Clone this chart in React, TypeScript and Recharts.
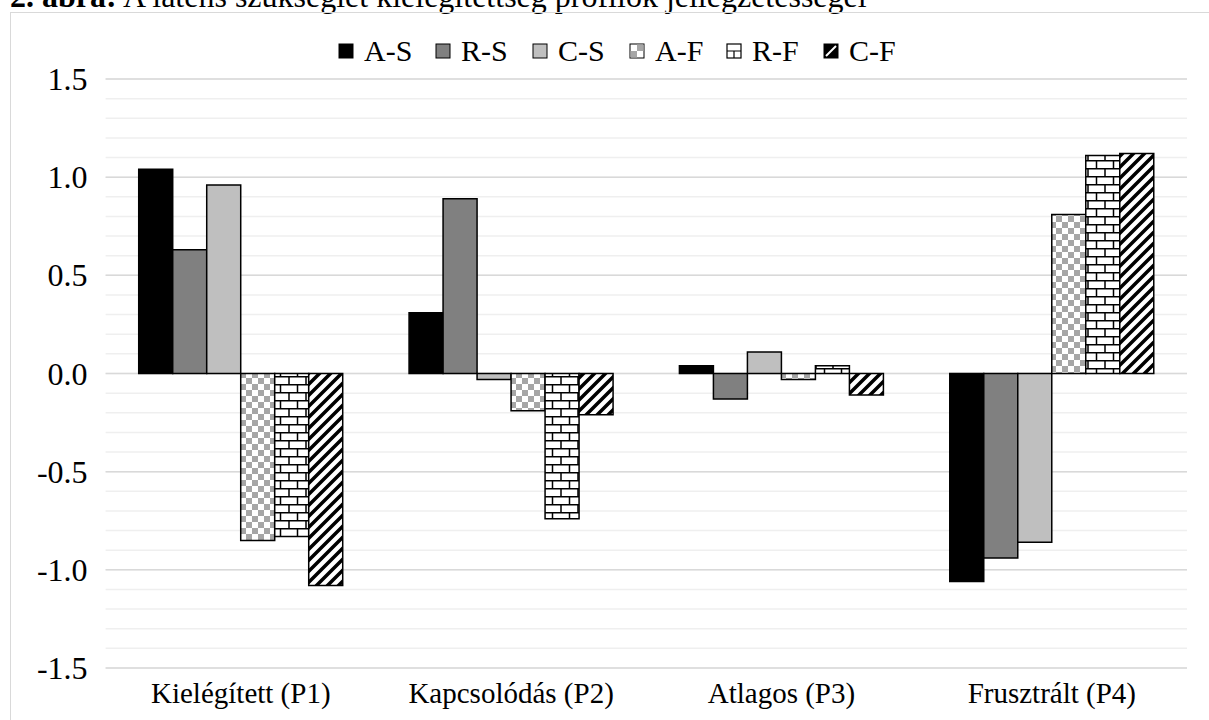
import React from "react";
import { Bar, BarChart, CartesianGrid, Legend, XAxis, YAxis } from "recharts";

const FONT = "'Liberation Serif', 'Times New Roman', serif";

const categories = ["Kielégített (P1)", "Kapcsolódás (P2)", "Atlagos (P3)", "Frusztrált (P4)"];
const seriesNames = ["A-S", "R-S", "C-S", "A-F", "R-F", "C-F"];

const asValues = [1.04, 0.31, 0.04, -1.06];
const rsValues = [0.63, 0.89, -0.13, -0.94];
const csValues = [0.96, -0.03, 0.11, -0.86];
const afValues = [-0.85, -0.19, -0.03, 0.81];
const rfValues = [-0.83, -0.74, 0.04, 1.11];
const cfValues = [-1.08, -0.21, -0.11, 1.12];

const yTicks = [-1.5, -1.0, -0.5, 0, 0.5, 1.0, 1.5];
const minorGrid = [
	-1.5, -1.4, -1.3, -1.2, -1.1, -1.0, -0.9, -0.8, -0.7, -0.6, -0.5, -0.4, -0.3, -0.2, -0.1, 0,
	0.1, 0.2, 0.3, 0.4, 0.5, 0.6, 0.7, 0.8, 0.9, 1.0, 1.1, 1.2, 1.3, 1.4, 1.5,
];

const data = categories.map((name, i) => ({
	name,
	"A-S": asValues[i],
	"R-S": rsValues[i],
	"C-S": csValues[i],
	"A-F": afValues[i],
	"R-F": rfValues[i],
	"C-F": cfValues[i],
}));

const fills = ["#000000", "#808080", "#bfbfbf", "url(#checker)", "url(#brick)", "url(#diag)"];

const YTick = (p: any) => (
	<text x={p.x} y={p.y} dy={11} textAnchor="end" fontSize={32} fontFamily={FONT} fill="#000">
		{Number(p.payload.value).toFixed(1)}
	</text>
);

const XTick = (p: any) => (
	<text x={p.x} y={p.y + 35} textAnchor="middle" fontSize={29} fontFamily={FONT} fill="#000">
		{p.payload.value}
	</text>
);

// small legend swatches, drawn by hand like the Excel ones
const Swatch = ({ i, x, y }: { i: number; x: number; y: number }) => {
	const s = 14;
	const h = s / 2;
	if (i < 3) {
		return <rect x={x} y={y} width={s} height={s} fill={fills[i]} stroke="#000" strokeWidth={1} />;
	}
	if (i === 3) {
		return (
			<g>
				<rect x={x} y={y} width={s} height={s} fill="#fff" stroke="#000" strokeWidth={1} />
				<rect x={x + h} y={y + 0.5} width={h - 0.5} height={h - 0.5} fill="#a6a6a6" />
				<rect x={x + 0.5} y={y + h} width={h - 0.5} height={h - 0.5} fill="#a6a6a6" />
			</g>
		);
	}
	if (i === 4) {
		return (
			<g>
				<rect x={x} y={y} width={s} height={s} fill="#fff" stroke="#000" strokeWidth={1.2} />
				<path d={`M${x},${y + h}H${x + s} M${x + h},${y + h}V${y + s}`} stroke="#000" strokeWidth={1.2} />
			</g>
		);
	}
	return (
		<g>
			<rect x={x} y={y} width={s} height={s} fill="#000" stroke="#000" strokeWidth={1} />
			<path d={`M${x + 2},${y + s - 2}L${x + s - 2},${y + 2}`} stroke="#fff" strokeWidth={2} />
		</g>
	);
};

const renderLegend = () => (
	<svg width={1209} height={40}>
		{seriesNames.map((name, i) => {
			const x = 339 + i * 97;
			return (
				<g key={name}>
					<Swatch i={i} x={x} y={16} />
					<text x={x + 25} y={32.5} fontSize={30} fontFamily={FONT} fill="#000">
						{name}
					</text>
				</g>
			);
		})}
	</svg>
);

export default function App() {
	return (
		<div
			style={{
				position: "absolute",
				left: 0,
				top: 0,
				width: 1209,
				height: 720,
				overflow: "hidden",
				background: "#fff",
			}}
		>
			<div
				style={{
					position: "absolute",
					left: 10,
					top: -20,
					fontFamily: FONT,
					fontSize: 32,
					lineHeight: 1,
					whiteSpace: "nowrap",
					color: "#000",
				}}
			>
				<b>2. ábra:</b> A latens szükséglet kielégítettség profilok jellegzetességei
			</div>
			<div
				style={{
					position: "absolute",
					left: 10,
					top: 12,
					width: 1400,
					height: 900,
					border: "1px solid #d9d9d9",
				}}
			/>
			<div style={{ position: "absolute", left: 0, top: 0 }}>
				<BarChart
					width={1209}
					height={720}
					data={data}
					margin={{ top: 79, right: 22, left: 0, bottom: 0 }}
					barCategoryGap="12.25%"
					barGap={0}
				>
					<defs>
						<pattern id="checker" width="12" height="12" patternUnits="userSpaceOnUse">
							<rect width="12" height="12" fill="#fff" />
							<rect width="6" height="6" fill="#a6a6a6" />
							<rect x="6" y="6" width="6" height="6" fill="#a6a6a6" />
						</pattern>
						<pattern id="brick" width="17" height="16" patternUnits="userSpaceOnUse">
							<rect width="17" height="16" fill="#fff" />
							<path
								d="M0,0.75H17 M0,8.75H17 M8.5,0.75V8.75 M0,8.75V16 M17,8.75V16"
								stroke="#000"
								strokeWidth="1.5"
							/>
						</pattern>
						<pattern id="diag" width="11" height="11" patternUnits="userSpaceOnUse">
							<rect width="11" height="11" fill="#fff" />
							<path d="M-2,13 L13,-2 M-2,2 L2,-2 M9,13 L13,9" stroke="#000" strokeWidth="3.5" />
						</pattern>
					</defs>
					<CartesianGrid vertical={false} horizontalValues={minorGrid} stroke="#efefef" strokeWidth={1.5} />
					<CartesianGrid vertical={false} stroke="#d9d9d9" strokeWidth={1.5} />
					<XAxis
						dataKey="name"
						height={52}
						axisLine={false}
						tickLine={false}
						tickSize={0}
						tickMargin={0}
						interval={0}
						tick={<XTick />}
					/>
					<YAxis
						domain={[-1.5, 1.5]}
						ticks={yTicks}
						width={105.6}
						axisLine={false}
						tickLine={false}
						tickSize={0}
						tickMargin={18}
						interval={0}
						tick={<YTick />}
					/>
					<Legend
						verticalAlign="middle"
						align="center"
						layout="horizontal"
						wrapperStyle={{ top: 28, left: 0, width: 1209, height: 40 }}
						content={renderLegend}
					/>
					{seriesNames.map((name, i) => (
						<Bar
							key={name}
							dataKey={name}
							fill={fills[i]}
							stroke="#000"
							strokeWidth={1.5}
							isAnimationActive={false}
						/>
					))}
				</BarChart>
			</div>
		</div>
	);
}
